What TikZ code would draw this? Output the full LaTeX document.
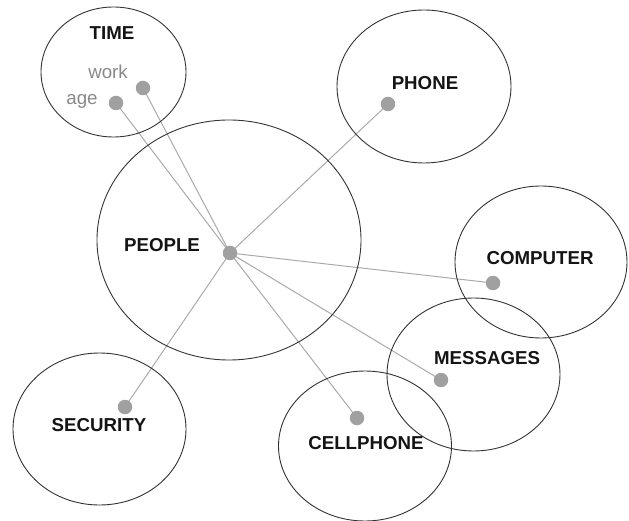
\documentclass[tikz,border=0pt]{standalone}
\usepackage{fontspec}
\setmainfont{Liberation Sans}
\usetikzlibrary{shapes.geometric,backgrounds}
\definecolor{ringcol}{HTML}{333333}
\definecolor{linkcol}{HTML}{AAAAAA}
\definecolor{dotcol}{HTML}{A0A0A0}
\definecolor{subcol}{HTML}{888888}
\tikzset{
  ring/.style={draw=ringcol, line width=0.9pt, ellipse, inner sep=0pt},
  dotnode/.style={circle, fill=dotcol, inner sep=0pt, minimum size=14.5pt},
  link/.style={draw=linkcol, line width=1pt},
  lbl/.style={font=\fontsize{18.7}{20}\selectfont\bfseries, text=black!92, inner sep=0pt},
  sublbl/.style={font=\fontsize{18.7}{20}\selectfont, text=subcol, inner sep=0pt},
}
\begin{document}
\begin{tikzpicture}[x=1pt,y=-1pt]
\useasboundingbox (0,0) rectangle (629,521);
% ellipses
\node[ring, minimum width=145pt, minimum height=130pt] (eTime) at (113.5,72) {};
\node[ring, minimum width=174pt, minimum height=153pt] (ePhone) at (424,86.5) {};
\node[ring, minimum width=264pt, minimum height=240pt] (ePeople) at (229,240) {};
\node[ring, minimum width=172pt, minimum height=152pt] (eComputer) at (541,262) {};
\node[ring, minimum width=173pt, minimum height=153pt] (eMessages) at (473.5,374.5) {};
\node[ring, minimum width=173pt, minimum height=150pt] (eCell) at (365,446) {};
\node[ring, minimum width=173pt, minimum height=152pt] (eSecurity) at (99.5,429) {};
% labels
\node[lbl] (tTime) at (112,33) {TIME};
\node[sublbl] (tWork) at (108,72) {work};
\node[sublbl] (tAge) at (82,101) {age};
\node[lbl] (tPhone) at (425,83) {PHONE};
\node[lbl] (tPeople) at (162,245) {PEOPLE};
\node[lbl] (tComputer) at (540,258) {COMPUTER};
\node[lbl] (tMessages) at (487,358) {MESSAGES};
\node[lbl] (tCell) at (366,443) {CELLPHONE};
\node[lbl] (tSecurity) at (99,425) {SECURITY};
% dots
\node[dotnode] (dC) at (230,253) {};
\node[dotnode] (dWork) at (143,88) {};
\node[dotnode] (dAge) at (116,103) {};
\node[dotnode] (dPhone) at (388,104) {};
\node[dotnode] (dComputer) at (493,283) {};
\node[dotnode] (dMessages) at (441,380) {};
\node[dotnode] (dCell) at (357,418) {};
\node[dotnode] (dSecurity) at (125,407) {};
% links
\begin{scope}[on background layer]
\foreach \t in {dWork,dAge,dPhone,dComputer,dMessages,dCell,dSecurity}
  \draw[link] (dC.center) -- (\t.center);
\end{scope}
\end{tikzpicture}
\end{document}
